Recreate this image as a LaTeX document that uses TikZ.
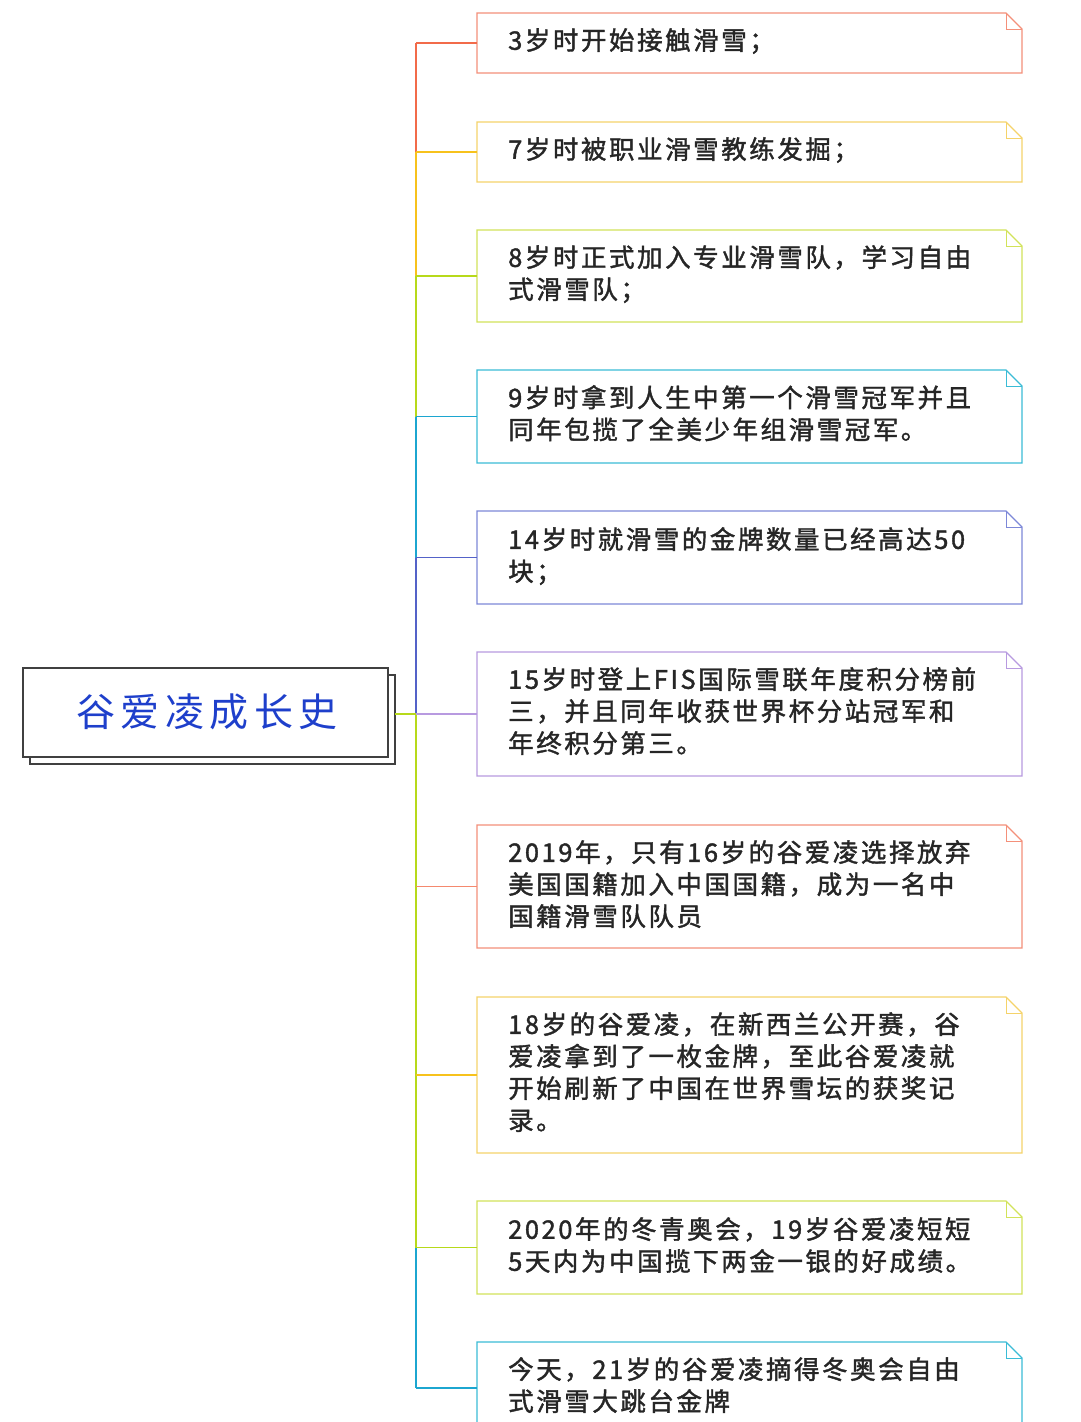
\documentclass[tikz,border=0pt]{standalone}
\usepackage{fontspec}
\newfontfamily\cjk[LetterSpace=10,FakeBold=1.5]{Noto Sans CJK SC}
\newfontfamily\cjkroot[LetterSpace=14]{Noto Sans CJK SC}
\definecolor{cA}{HTML}{F4907A}
\definecolor{cB}{HTML}{F5D36A}
\definecolor{cC}{HTML}{D2E35A}
\definecolor{cD}{HTML}{3BBCD6}
\definecolor{cE}{HTML}{7D88D8}
\definecolor{cF}{HTML}{B89AE0}
\definecolor{sA}{HTML}{F26B4A}
\definecolor{sB}{HTML}{F7C21C}
\definecolor{sC}{HTML}{B7D91A}
\definecolor{sD}{HTML}{1CA6D0}
\definecolor{sE}{HTML}{5462C8}
\definecolor{rootblue}{HTML}{1E3FCB}
\tikzset{txt/.style={anchor=north west,align=left,font=\cjk\fontsize{25.5}{32}\selectfont,inner sep=0pt,text=black!85}}
\newcommand{\notebox}[4]{% color, top, bottom, name
  \draw[#1,line width=1.4pt] (477,#2) -- (1006,#2) -- (1022,{#2+16}) -- (1022,#3) -- (477,#3) -- cycle;
  \draw[#1,line width=1pt] (1006,#2) -- (1006,{#2+16}) -- (1022,{#2+16});
  \coordinate (#4) at (477,{(#2+#3)/2});
}
\begin{document}
\begin{tikzpicture}[x=1pt,y=-1pt]
\useasboundingbox (0,0) rectangle (1080,1422);
\fill[white] (0,0) rectangle (1080,1422);
\begin{scope}
\clip (0,0) rectangle (1080,1422);
\notebox{cA}{13}{73}{b1}
\notebox{cB}{122}{182}{b2}
\notebox{cC}{230}{322}{b3}
\notebox{cD}{370}{463}{b4}
\notebox{cE}{511}{604}{b5}
\notebox{cF}{652}{776}{b6}
\notebox{cA}{825}{948}{b7}
\notebox{cB}{997}{1153}{b8}
\notebox{cC}{1201}{1294}{b9}
\notebox{cD}{1342}{1434}{b10}
\end{scope}
\node[txt] (t1) at (508,28) {3岁时开始接触滑雪；};
\node[txt] (t2) at (508,137) {7岁时被职业滑雪教练发掘；};
\node[txt] (t3) at (508,245) {8岁时正式加入专业滑雪队，学习自由\\式滑雪队；};
\node[txt] (t4) at (508,385) {9岁时拿到人生中第一个滑雪冠军并且\\同年包揽了全美少年组滑雪冠军。};
\node[txt] (t5) at (508,527) {14岁时就滑雪的金牌数量已经高达50\\块；};
\node[txt] (t6) at (508,667) {15岁时登上FIS国际雪联年度积分榜前\\三，并且同年收获世界杯分站冠军和\\年终积分第三。};
\node[txt] (t7) at (508,840) {2019年，只有16岁的谷爱凌选择放弃\\美国国籍加入中国国籍，成为一名中\\国籍滑雪队队员};
\node[txt] (t8) at (508,1012) {18岁的谷爱凌，在新西兰公开赛，谷\\爱凌拿到了一枚金牌，至此谷爱凌就\\开始刷新了中国在世界雪坛的获奖记\\录。};
\node[txt] (t9) at (508,1217) {2020年的冬青奥会，19岁谷爱凌短短\\5天内为中国揽下两金一银的好成绩。};
\node[txt] (t10) at (508,1357) {今天，21岁的谷爱凌摘得冬奥会自由\\式滑雪大跳台金牌};
% root
\draw[black!75,line width=1.5pt,fill=white] (30,675) rectangle (395,764);
\draw[black!75,line width=1.5pt,fill=white] (23,668) rectangle (388,757);
\node[font=\cjkroot\fontsize{39}{40}\selectfont,text=rootblue] (root) at (207,712) {谷爱凌成长史};
\coordinate (rootR) at (395,714);
% spine
\coordinate (sp) at (416,0);
\coordinate (s1) at (b1 -| sp);
\coordinate (s2) at (b2 -| sp);
\coordinate (s3) at (b3 -| sp);
\coordinate (s4) at (b4 -| sp);
\coordinate (s5) at (b5 -| sp);
\coordinate (s6) at (rootR -| sp);
\coordinate (s9) at (b9 -| sp);
\coordinate (s10) at (416,1388);
\coordinate (b10) at (477,1388);
\begin{scope}[line width=2.2pt]
\draw[sA] (s1) -- (s2);
\draw[sB] (s2) -- (s3);
\draw[sC] (s3) -- (s4);
\draw[sD] (s4) -- (s5);
\draw[sE] (s5) -- (s6);
\draw[sC] (s6) -- (s9);
\draw[sD] (s9) -- (s10);
\draw[sC] (rootR) -- (s6);
\end{scope}
\begin{scope}[line width=1.4pt]
\draw[sA] (s1) -- (b1);
\draw[sB] (s2) -- (b2);
\draw[sC] (s3) -- (b3);
\draw[sD] (s4) -- (b4);
\draw[sE] (s5) -- (b5);
\draw[cF] (b6 -| sp) -- (b6);
\draw[sA!80] (b7 -| sp) -- (b7);
\draw[sB] (b8 -| sp) -- (b8);
\draw[sC] (s9) -- (b9);
\draw[sD] (s10) -- (b10);
\end{scope}
\end{tikzpicture}
\end{document}
